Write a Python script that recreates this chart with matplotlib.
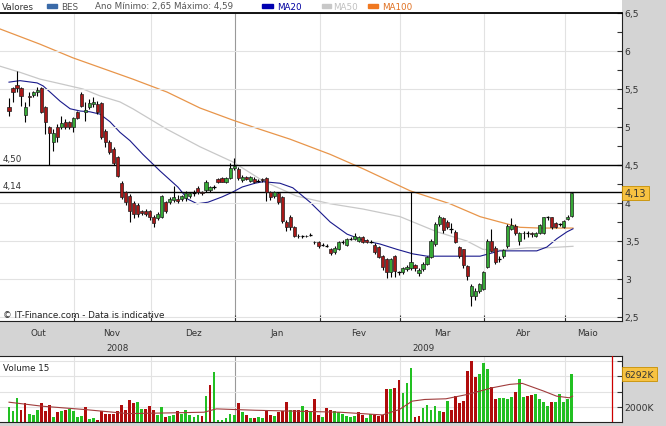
import matplotlib
matplotlib.use('Agg')
import matplotlib.pyplot as plt
from matplotlib.patches import Rectangle
from matplotlib.ticker import FixedLocator, FuncFormatter, MultipleLocator

# daily candles, Oct 2008 - May 2009 (BES)
opens = [5.26, 5.51, 5.55, 5.51, 5.16, 5.41, 5.42, 5.46, 5.51, 5.26,
         5.00, 4.80, 5.00, 5.00, 5.06, 5.06, 5.00, 5.20, 5.43, 5.20,
         5.26, 5.30, 5.30, 5.32, 4.95, 4.80, 4.71, 4.61, 4.26, 4.14,
         4.09, 4.00, 3.97, 3.89, 3.89, 3.89, 3.82, 3.80, 3.81, 4.01,
         4.01, 4.04, 4.05, 4.05, 4.07, 4.09, 4.13, 4.20, 4.14, 4.17,
         4.17, 4.21, 4.32, 4.33, 4.28, 4.33, 4.46, 4.45, 4.30, 4.34,
         4.29, 4.32, 4.29, 4.32, 4.33, 4.14, 4.09, 4.13, 4.08, 3.75,
         3.82, 3.68, 3.57, 3.57, 3.57, 3.58, 3.49, 3.49, 3.45, 3.44,
         3.39, 3.35, 3.40, 3.49, 3.45, 3.53, 3.53, 3.50, 3.55, 3.51,
         3.49, 3.45, 3.42, 3.30, 3.26, 3.09, 3.30, 3.09, 3.09, 3.13,
         3.14, 3.18, 3.08, 3.13, 3.20, 3.29, 3.46, 3.72, 3.80, 3.75,
         3.66, 3.62, 3.42, 3.39, 3.17, 2.78, 2.78, 2.84, 2.87, 3.16,
         3.50, 3.41, 3.26, 3.30, 3.43, 3.66, 3.70, 3.50, 3.60, 3.60,
         3.60, 3.57, 3.61, 3.61, 3.81, 3.81, 3.74, 3.72, 3.68, 3.79,
         3.83]
highs = [5.38, 5.53, 5.74, 5.53, 5.33, 5.46, 5.48, 5.53, 5.53, 5.28,
         5.01, 4.97, 5.04, 5.14, 5.10, 5.08, 5.13, 5.21, 5.46, 5.33,
         5.37, 5.39, 5.34, 5.33, 4.97, 4.83, 4.74, 4.62, 4.29, 4.16,
         4.12, 4.03, 4.00, 3.91, 3.92, 3.91, 3.84, 3.88, 4.10, 4.03,
         4.08, 4.22, 4.10, 4.11, 4.16, 4.15, 4.17, 4.22, 4.16, 4.30,
         4.23, 4.24, 4.33, 4.34, 4.34, 4.52, 4.59, 4.47, 4.37, 4.36,
         4.36, 4.34, 4.31, 4.33, 4.34, 4.16, 4.16, 4.15, 4.09, 3.77,
         3.84, 3.70, 3.59, 3.58, 3.58, 3.60, 3.50, 3.50, 3.47, 3.46,
         3.41, 3.43, 3.50, 3.51, 3.54, 3.55, 3.60, 3.56, 3.56, 3.53,
         3.51, 3.47, 3.43, 3.31, 3.28, 3.28, 3.31, 3.11, 3.16, 3.18,
         4.14, 3.20, 3.14, 3.22, 3.30, 3.52, 3.75, 3.84, 3.82, 3.77,
         3.74, 3.64, 3.44, 3.40, 3.18, 2.93, 2.88, 2.95, 3.11, 3.53,
         3.66, 3.43, 3.30, 3.40, 3.72, 3.80, 3.72, 3.62, 3.63, 3.63,
         3.62, 3.62, 3.73, 3.82, 3.83, 3.82, 3.75, 3.74, 3.77, 3.84,
         4.14]
lows = [5.14, 5.33, 5.46, 5.28, 5.07, 5.28, 5.40, 5.41, 5.18, 4.91,
        4.50, 4.68, 4.80, 4.97, 4.98, 4.97, 4.93, 5.11, 5.26, 5.08,
        5.24, 5.26, 5.17, 4.84, 4.74, 4.64, 4.50, 4.34, 4.05, 3.97,
        3.75, 3.80, 3.82, 3.84, 3.83, 3.78, 3.68, 3.78, 3.80, 3.87,
        3.99, 4.01, 4.00, 4.02, 4.03, 4.07, 4.09, 4.12, 4.10, 4.15,
        4.15, 4.18, 4.26, 4.27, 4.26, 4.32, 4.44, 4.30, 4.27, 4.30,
        4.27, 4.26, 4.27, 4.28, 4.03, 4.04, 4.07, 3.99, 3.74, 3.63,
        3.64, 3.55, 3.54, 3.54, 3.55, 3.56, 3.46, 3.41, 3.43, 3.42,
        3.32, 3.33, 3.38, 3.46, 3.43, 3.51, 3.51, 3.48, 3.47, 3.47,
        3.47, 3.33, 3.27, 3.12, 3.01, 3.03, 3.03, 3.05, 3.07, 3.10,
        3.12, 3.11, 3.04, 3.11, 3.18, 3.27, 3.44, 3.70, 3.60, 3.66,
        3.60, 3.47, 3.28, 3.15, 2.99, 2.65, 2.72, 2.82, 2.85, 3.14,
        3.35, 3.20, 3.22, 3.28, 3.41, 3.64, 3.58, 3.45, 3.52, 3.55,
        3.55, 3.55, 3.59, 3.59, 3.78, 3.66, 3.67, 3.70, 3.67, 3.78,
        3.82]
closes = [5.21, 5.46, 5.51, 5.41, 5.26, 5.40, 5.46, 5.49, 5.20, 5.07,
          4.92, 4.92, 4.87, 5.05, 5.00, 5.00, 5.12, 5.12, 5.27, 5.22,
          5.32, 5.33, 5.20, 4.87, 4.80, 4.67, 4.53, 4.36, 4.08, 4.01,
          3.89, 3.86, 3.86, 3.87, 3.86, 3.82, 3.74, 3.86, 4.09, 3.89,
          4.05, 4.08, 4.03, 4.09, 4.13, 4.13, 4.13, 4.15, 4.13, 4.28,
          4.21, 4.21, 4.28, 4.28, 4.33, 4.46, 4.49, 4.33, 4.34, 4.32,
          4.34, 4.28, 4.29, 4.30, 4.14, 4.08, 4.14, 4.01, 3.76, 3.68,
          3.68, 3.57, 3.56, 3.57, 3.56, 3.58, 3.48, 3.43, 3.45, 3.44,
          3.34, 3.41, 3.48, 3.49, 3.53, 3.53, 3.57, 3.55, 3.49, 3.49,
          3.49, 3.36, 3.29, 3.16, 3.09, 3.26, 3.11, 3.09, 3.14, 3.16,
          3.22, 3.14, 3.12, 3.20, 3.29, 3.50, 3.72, 3.81, 3.64, 3.68,
          3.66, 3.49, 3.30, 3.18, 3.04, 2.91, 2.84, 2.93, 3.09, 3.50,
          3.37, 3.22, 3.26, 3.38, 3.70, 3.71, 3.60, 3.60, 3.61, 3.60,
          3.59, 3.60, 3.71, 3.81, 3.81, 3.68, 3.69, 3.72, 3.76, 3.82,
          4.13]
# volume in thousands
volumes = [1950, 1510, 3100, 1640, 2570, 1110, 975, 1640, 2440, 1420,
           2300, 620, 1290, 1510, 1550, 1770, 1510, 665, 750, 2040,
           400, 490, 310, 1510, 1110, 1110, 1110, 1420, 2300, 1640,
           2920, 2480, 2700, 1770, 1770, 2080, 1640, 930, 2040, 665,
           750, 975, 1420, 1110, 1550, 975, 665, 890, 840, 3370,
           4830, 6600, 270, 310, 530, 1110, 975, 2440, 1290, 890,
           530, 530, 620, 490, 1510, 975, 840, 1330, 1420, 2610,
           1640, 1640, 1640, 2080, 1550, 1370, 2970, 975, 620, 1860,
           1640, 1420, 1290, 1110, 750, 665, 750, 1290, 975, 490,
           1110, 975, 840, 975, 4300, 4390, 4430, 5540, 3850, 5180,
           7180, 665, 840, 1860, 2300, 1640, 2080, 1420, 1290, 2750,
           1640, 3370, 2520, 2750, 6730, 8060, 5980, 6290, 7750, 6960,
           4650, 2970, 3190, 3190, 2970, 3320, 3940, 5630, 3320, 3410,
           3500, 3630, 3060, 2610, 2170, 2700, 2700, 3630, 2610, 3000,
           6290]

ma20_x = [0, 2.7, 7.0, 8.5, 10.2, 12.7, 15.2, 17.7, 20.1, 22.6, 25.1, 27.6, 30.1,
          33.3, 37.6, 42.0, 44.5, 46.8, 49.5, 53.0, 55.5, 58.0, 61.2, 63.2, 67.4,
          70.6, 74.9, 79.9, 84.1, 88.1, 92.3, 96.5, 100.5, 104.0, 110.4, 117.2,
          122.1, 127.1, 131.3, 133.8, 136.3, 138.8, 140.3]
ma20_y = [5.59, 5.61, 5.58, 5.54, 5.46, 5.34, 5.24, 5.21, 5.20, 5.17, 5.07, 4.93, 4.82,
          4.64, 4.42, 4.21, 4.05, 3.99, 4.01, 4.08, 4.14, 4.21, 4.26, 4.28, 4.26,
          4.20, 4.01, 3.75, 3.59, 3.51, 3.46, 3.39, 3.33, 3.30, 3.30, 3.30,
          3.37, 3.37, 3.37, 3.42, 3.53, 3.62, 3.66]
ma50_x = [-2.24, 2.7, 7.7, 12.7, 18.4, 22.6, 27.6, 30.8, 39.3, 47.5, 55.7, 63.2,
          71.6, 79.9, 88.1, 97.3, 106.5, 113.9, 117.9, 122.1, 128.9, 133.8, 140.3]
ma50_y = [5.80, 5.72, 5.63, 5.57, 5.50, 5.41, 5.33, 5.24, 4.97, 4.74, 4.54, 4.29,
          4.09, 3.99, 3.92, 3.82, 3.62, 3.50, 3.39, 3.38, 3.41, 3.41, 3.43]
ma100_x = [-2.24, 7.7, 15.9, 30.8, 39.3, 47.5, 55.7, 62.4, 69.9, 79.9, 88.1, 99.8,
           109.7, 117.2, 122.1, 127.1, 132.1, 140.3]
ma100_y = [6.29, 6.09, 5.91, 5.63, 5.46, 5.25, 5.09, 4.97, 4.84, 4.64, 4.45, 4.16,
           3.99, 3.82, 3.75, 3.68, 3.67, 3.67]
volma_x = [0, 8.3, 18.9, 29.5, 40, 48.5, 51.6, 61.2, 71.7, 82.3, 92.9, 97.1, 100.3,
           103.4, 108.7, 114, 120.3, 124.6, 127.7, 133, 136.2, 139.4, 140.2]
volma_y = [2610, 2080, 1640, 1110, 1200, 1290, 1730, 1550, 1420, 1290, 930, 1640, 2750,
           2970, 3060, 3630, 4520, 4960, 5090, 4080, 3410, 3190, 3410]

month_bounds = [16.2, 35.3, 56.2, 77.4, 97.3, 118.2, 138.3]
year_bound = 56.2
month_pos = [7.2, 25.6, 45.8, 66.7, 87.1, 107.7, 128.1, 143.8]
month_names = ['Out', 'Nov', 'Dez', 'Jan', 'Fev', 'Mar', 'Abr', 'Maio']
year_pos = [27.1, 103]
year_names = ['2008', '2009']
levels = [4.50, 4.14]
last_close = 4.13
last_volume = 6292

plt.rcParams['font.family'] = 'DejaVu Sans'
FS = 6.3
GRAY = '#d4d4d4'
GREEN = '#36a836'
RED = '#a81818'

W, H = 666, 427
fig = plt.figure(figsize=(W / 100, H / 100), dpi=100, facecolor=GRAY)

# legend strip
top = fig.add_axes([0, 1 - 14 / H, 622 / W, 14 / H])
top.set_xlim(0, 622)
top.set_ylim(14, 0)
top.set_xticks([])
top.set_yticks([])
for s in top.spines.values():
    s.set_visible(False)
top.text(2, 7, 'Valores', fontsize=FS, color='#333333', va='center')
top.add_patch(Rectangle((47, 5), 10, 4, color='#3a6aa8'))
top.text(61, 7, 'BES', fontsize=FS, color='#555555', va='center')
top.text(95, 7, 'Ano Mínimo: 2,65 Máximo: 4,59', fontsize=FS, color='#555555', va='center')
top.add_patch(Rectangle((262, 5), 11, 4, color='#0000b0'))
top.text(277, 7, 'MA20', fontsize=FS, color='#0000a0', va='center')
top.add_patch(Rectangle((322, 5), 9, 4, color='#c8c8c8'))
top.text(333, 7, 'MA50', fontsize=FS, color='#c0c0c0', va='center')
top.add_patch(Rectangle((368, 5), 10, 4, color='#f07820'))
top.text(382, 7, 'MA100', fontsize=FS, color='#e07020', va='center')

# price panel
ax = fig.add_axes([0, 1 - 322 / H, 622 / W, 308 / H])
ax.set_facecolor('white')
ax.set_xlim(-2.24, 152.5)
ax.set_ylim(2.447, 6.5)

for b in month_bounds:
    ax.axvline(b, color='#999999' if b == year_bound else '#e2e2e2', lw=0.8, zorder=0)
ax.yaxis.tick_right()
ax.yaxis.set_major_locator(MultipleLocator(0.5))
ax.yaxis.set_minor_locator(MultipleLocator(0.25))
ax.yaxis.set_major_formatter(FuncFormatter(lambda v, p: ('%g' % v).replace('.', ',')))
ax.grid(axis='y', which='major', color='#e2e2e2', lw=0.8, zorder=0)
ax.tick_params(axis='y', which='both', direction='in', length=3.5, width=0.8,
               labelsize=FS + 0.4, pad=2, colors='#333333')
ax.xaxis.set_major_locator(FixedLocator(month_bounds))
ax.tick_params(axis='x', which='major', direction='in', length=4, width=0.8,
               labelbottom=False, colors='#333333')
for name, s in ax.spines.items():
    s.set_color('#222222')
ax.spines['left'].set_visible(False)
ax.spines['top'].set_linewidth(1.3)
ax.spines['top'].set_color('black')

ax.plot(ma100_x, ma100_y, color='#e8954a', lw=0.9, zorder=1)
ax.plot(ma50_x, ma50_y, color='#c8c8c8', lw=0.9, zorder=1)
ax.plot(ma20_x, ma20_y, color='#1a1a8c', lw=0.8, zorder=1)

for lv in levels:
    ax.axhline(lv, color='black', lw=1, zorder=2)
    ax.text(0.005, lv + 0.03, ('%.2f' % lv).replace('.', ','), transform=ax.get_yaxis_transform(),
            fontsize=FS, color='#333333', va='bottom')

for i in range(len(opens)):
    o, h, l, c = opens[i], highs[i], lows[i], closes[i]
    ax.vlines(i, l, h, color='black', lw=0.8, zorder=3)
    if c == o:
        ax.hlines(c, i - 0.45, i + 0.45, color='black', lw=0.9, zorder=4)
    else:
        ax.bar(i, abs(c - o), bottom=min(o, c), width=0.78, color=GREEN if c > o else RED,
               edgecolor='#202020', lw=0.5, zorder=4)

ax.annotate(('%.2f' % last_close).replace('.', ','), xy=(1.0, last_close),
            xycoords=ax.get_yaxis_transform(), xytext=(2, 0), textcoords='offset points',
            fontsize=FS + 0.6, color='#333333', va='center', ha='left', zorder=10,
            bbox=dict(boxstyle='square,pad=0.25', fc='#f7c242', ec='#c89000', lw=0.6),
            annotation_clip=False)

ax.text(0.005, 0.022, '© IT-Finance.com - Data is indicative', transform=ax.transAxes,
        fontsize=FS, color='#222222', va='center')

for x, name in zip(month_pos, month_names):
    ax.text(x, -0.036, name, transform=ax.get_xaxis_transform(), fontsize=FS,
            color='#333333', ha='center', va='center')
for x, name in zip(year_pos, year_names):
    ax.text(x, -0.085, name, transform=ax.get_xaxis_transform(), fontsize=FS,
            color='#333333', ha='center', va='center')

# volume panel
vax = fig.add_axes([0, 1 - 423 / H, 622 / W, 66 / H])
vax.set_facecolor('white')
vax.set_xlim(-2.24, 152.5)
vax.set_ylim(0, 8700)
for b in month_bounds:
    vax.axvline(b, color='#999999' if b == year_bound else '#e2e2e2', lw=0.8, zorder=0)
vax.yaxis.tick_right()
vax.set_yticks([2000, 4000, 6000, 8000])
vax.set_yticklabels(['2000K', '', '', ''])
vax.grid(axis='y', color='#e2e2e2', lw=0.8, zorder=0)
vax.tick_params(axis='y', direction='in', length=3.5, width=0.8, labelsize=FS + 0.4,
                pad=2, colors='#333333')
vax.set_xticks([])
for s in vax.spines.values():
    s.set_color('#222222')
vax.spines['left'].set_visible(False)

vcolors = [GREEN if i == 0 or closes[i] >= closes[i - 1] else RED for i in range(len(volumes))]
vcolors = ['#22c022' if c == GREEN else '#b00c0c' for c in vcolors]
vax.bar(range(len(volumes)), volumes, width=0.7, color=vcolors, zorder=2)
vax.plot(volma_x, volma_y, color='#a03c3c', lw=0.8, zorder=3)
vax.axvline(150, color='#cc0000', lw=0.9, zorder=3)
vax.text(0.005, 0.83, 'Volume 15', transform=vax.transAxes, fontsize=FS,
         color='#222222', va='center')
vax.annotate('%dK' % last_volume, xy=(1.0, last_volume), xycoords=vax.get_yaxis_transform(),
             xytext=(2, 0), textcoords='offset points', fontsize=FS + 0.4, color='#333333',
             va='center', ha='left', zorder=10,
             bbox=dict(boxstyle='square,pad=0.25', fc='#f7c242', ec='#c89000', lw=0.6),
             annotation_clip=False)

fig.savefig('out.png', dpi=100, facecolor=GRAY)
